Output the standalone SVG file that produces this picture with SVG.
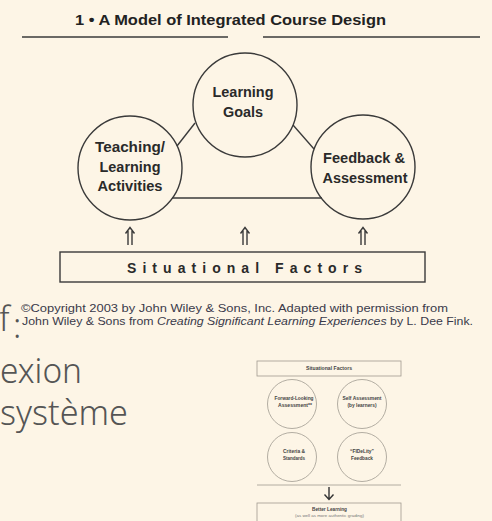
<svg xmlns="http://www.w3.org/2000/svg" width="492" height="521" viewBox="0 0 492 521">
<style>
.bg{fill:#FDF5E6}
.ln{stroke:#3a3a3a;stroke-width:1.4;fill:none}
.node{fill:none;stroke:#3a3a3a;stroke-width:1.4}
.lbl{font-family:"Liberation Sans",Arial,sans-serif;font-weight:bold;font-size:14px;fill:#2a2a2a;text-anchor:middle}
.title{font-family:"Liberation Sans",Arial,sans-serif;font-weight:bold;font-size:15px;fill:#222}
.copy{font-family:"Liberation Sans",Arial,sans-serif;font-size:10.5px;fill:#3a3a4a}
.big{font-family:"Noto Sans","Open Sans",sans-serif;font-weight:300;font-size:34px;fill:#555}
.sm{fill:none;stroke:#a09a90;stroke-width:0.8}
.st{font-family:"Liberation Sans",Arial,sans-serif;font-weight:bold;font-size:5px;fill:#444;text-anchor:middle}
.st2{font-family:"Liberation Sans",Arial,sans-serif;font-size:4.2px;fill:#777;text-anchor:middle}
</style>
<rect class="bg" x="0" y="0" width="492" height="521"/>

<g id="title">
<text class="title" x="75" y="25" textLength="311" lengthAdjust="spacingAndGlyphs">1 • A Model of Integrated Course Design</text>
<line class="ln" x1="22" y1="37" x2="228" y2="37"/>
<line class="ln" x1="263" y1="37" x2="480" y2="37"/>
</g>

<g id="connectors">
<line class="ln" x1="195" y1="123" x2="177" y2="146"/>
<line class="ln" x1="293" y1="125" x2="314" y2="149"/>
<line class="ln" x1="172" y1="198" x2="322" y2="198"/>
<path class="ln" stroke-width="1.2" d="M128,245V231M132,245V231M125.5,233.5L130,227.5L134.5,233.5"/>
<path class="ln" stroke-width="1.2" d="M243,245V231M247,245V231M240.5,233.5L245,227.5L249.5,233.5"/>
<path class="ln" stroke-width="1.2" d="M361,245V231M365,245V231M358.5,233.5L363,227.5L367.5,233.5"/>
</g>

<g id="learning-goals">
<circle class="node" cx="245" cy="105" r="52"/>
<text class="lbl" x="243" y="97" textLength="61" lengthAdjust="spacingAndGlyphs">Learning</text>
<text class="lbl" x="243" y="117" textLength="40" lengthAdjust="spacingAndGlyphs">Goals</text>
</g>

<g id="teaching-learning">
<circle class="node" cx="130" cy="168" r="52"/>
<text class="lbl" x="130" y="152" textLength="70" lengthAdjust="spacingAndGlyphs">Teaching/</text>
<text class="lbl" x="130" y="172" textLength="61" lengthAdjust="spacingAndGlyphs">Learning</text>
<text class="lbl" x="130" y="191" textLength="65" lengthAdjust="spacingAndGlyphs">Activities</text>
</g>

<g id="feedback-assessment">
<circle class="node" cx="363" cy="167" r="52"/>
<text class="lbl" x="364" y="163" textLength="82" lengthAdjust="spacingAndGlyphs">Feedback &amp;</text>
<text class="lbl" x="365" y="183" textLength="85" lengthAdjust="spacingAndGlyphs">Assessment</text>
</g>

<g id="situational-factors">
<rect class="node" x="60" y="252" width="365" height="30"/>
<text class="lbl" x="244.5" y="273" font-size="13" textLength="235" lengthAdjust="spacing">Situational Factors</text>
</g>

<g id="copyright">
<text class="copy" x="21" y="312" textLength="427" lengthAdjust="spacingAndGlyphs">©Copyright 2003 by John Wiley &amp; Sons, Inc. Adapted with permission from</text>
<text class="copy" x="22" y="325" textLength="451" lengthAdjust="spacingAndGlyphs">John Wiley &amp; Sons from <tspan font-style="italic">Creating Significant Learning Experiences</tspan> by L. Dee Fink.</text>
</g>

<g id="body-text">
<text class="big" x="-1" y="331">f</text>
<text class="big" x="13" y="338">:</text>
<text class="big" x="0" y="383" textLength="82" lengthAdjust="spacingAndGlyphs">exion</text>
<text class="big" x="0" y="425" textLength="128" lengthAdjust="spacingAndGlyphs">système</text>
</g>

<g id="mini-diagram">
<rect class="sm" x="257" y="361" width="144" height="15"/>
<text class="st" x="329" y="370" textLength="46" lengthAdjust="spacingAndGlyphs">Situational Factors</text>
<circle class="sm" cx="292" cy="404" r="24.5"/>
<text class="st" x="294" y="400" textLength="39" lengthAdjust="spacingAndGlyphs">Forward-Looking</text>
<text class="st" x="295" y="407" textLength="34" lengthAdjust="spacingAndGlyphs">Assessment**</text>
<circle class="sm" cx="362" cy="404" r="24.5"/>
<text class="st" x="362" y="400" textLength="39" lengthAdjust="spacingAndGlyphs">Self Assessment</text>
<text class="st" x="362" y="407" textLength="29" lengthAdjust="spacingAndGlyphs">(by learners)</text>
<circle class="sm" cx="292" cy="457" r="24.5"/>
<text class="st" x="294" y="453" textLength="22" lengthAdjust="spacingAndGlyphs">Criteria &amp;</text>
<text class="st" x="294" y="460" textLength="22" lengthAdjust="spacingAndGlyphs">Standards</text>
<circle class="sm" cx="362" cy="457" r="24.5"/>
<text class="st" x="362" y="453" textLength="24" lengthAdjust="spacingAndGlyphs">“FIDeLity”</text>
<text class="st" x="362" y="460" textLength="22" lengthAdjust="spacingAndGlyphs">Feedback</text>
<line class="sm" x1="257" y1="485" x2="401" y2="485" stroke-width="1"/>
<path d="M329,487V499M324.5,494.5L329,499.5L333.5,494.5" fill="none" stroke="#333" stroke-width="1.4"/>
<rect class="sm" x="257" y="503" width="144" height="19"/>
<text class="st" x="329.5" y="510.5" textLength="35" lengthAdjust="spacingAndGlyphs">Better Learning</text>
<text class="st2" x="329.5" y="516.5" textLength="69" lengthAdjust="spacingAndGlyphs">(as well as more authentic grading)</text>
</g>
</svg>
